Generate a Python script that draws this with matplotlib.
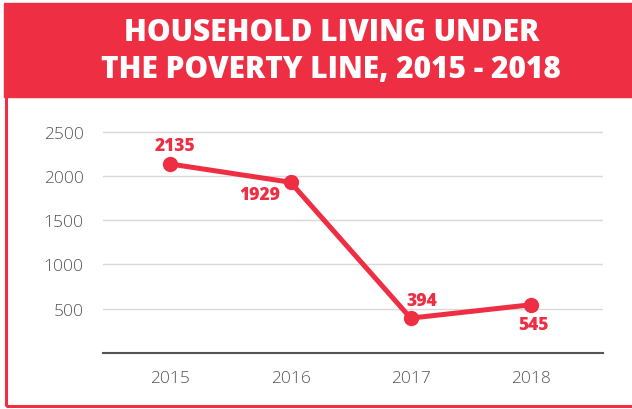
import matplotlib.pyplot as plt
from matplotlib.patches import Rectangle

years = ['2015', '2016', '2017', '2018']
households = [2135, 1929, 394, 545]
yticks = [500, 1000, 1500, 2000, 2500]

red = '#ee2e42'
grey = '#555555'

plt.rcParams['font.family'] = ['Open Sans', 'DejaVu Sans']

fig = plt.figure(figsize=(6.32, 4.10), dpi=100)

# header band and frame
fig.patches.append(Rectangle((4 / 632, 312 / 410), 628 / 632, 94 / 410,
                             transform=fig.transFigure, color=red, zorder=0))
fig.patches.append(Rectangle((5.5 / 632, 3 / 410), 640 / 632, 400 / 410,
                             transform=fig.transFigure, fill=False,
                             edgecolor=red, linewidth=2.2, zorder=0))
fig.text(0.524, 0.919, 'HOUSEHOLD LIVING UNDER', color='white', fontsize=21.5,
         fontweight=800, ha='center', va='center')
fig.text(0.524, 0.830, 'THE POVERTY LINE, 2015 - 2018', color='white', fontsize=21.5,
         fontweight=800, ha='center', va='center')

ax = fig.add_axes([103 / 632, 56 / 410, 500 / 632, 239 / 410])
x = list(range(len(years)))
ax.plot(x, households, color=red, linewidth=3.6, marker='o', markersize=10,
        solid_capstyle='round', zorder=3)

offsets = [(3, 13, 'center'), (-7, -9, 'right'), (8, 13, 'center'), (2, -14, 'center')]
for xi, v, (dx, dy, ha) in zip(x, households, offsets):
    ax.annotate(str(v), (xi, v), xytext=(dx, dy), textcoords='offset points',
                color=red, fontsize=12.5, fontweight=800, ha=ha, va='center')

ax.set_xlim(-0.56, 3.6)
ax.set_ylim(0, 2700)
ax.set_yticks(yticks)
ax.set_yticklabels([str(t) for t in yticks], fontweight=300)
ax.set_xticks(x)
ax.set_xticklabels(years, fontweight=300)
ax.grid(axis='y', color='#d9d9d9', linewidth=1)
ax.set_axisbelow(True)
for side in ['top', 'right', 'left']:
    ax.spines[side].set_visible(False)
ax.spines['bottom'].set_color(grey)
ax.spines['bottom'].set_linewidth(1.5)
ax.tick_params(length=0, labelcolor=grey, labelsize=12.5)
ax.tick_params(axis='x', pad=12)
ax.tick_params(axis='y', pad=14)

fig.savefig('out.png', dpi=100)
